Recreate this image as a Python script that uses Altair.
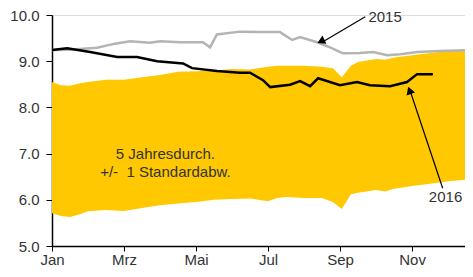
import altair as alt
import pandas as pd

# band (5-year mean +/- 1 std), x in months since Jan 1
band_t = [0, 0.25, 0.5, 0.75, 1, 1.5, 2, 2.5, 3, 3.5, 4, 4.5, 5, 5.5, 6, 6.25, 6.5, 7, 7.5, 7.8, 8.05, 8.3, 8.5, 9, 9.25, 9.5, 10, 10.5, 11, 11.7]
band_hi = [8.55, 8.48, 8.47, 8.52, 8.55, 8.6, 8.6, 8.65, 8.7, 8.77, 8.78, 8.8, 8.83, 8.82, 8.88, 8.9, 8.9, 8.9, 8.88, 8.85, 8.65, 8.9, 8.98, 9.05, 9.03, 9.08, 9.13, 9.18, 9.22, 9.28]
band_lo = [5.71, 5.65, 5.63, 5.68, 5.75, 5.78, 5.76, 5.82, 5.88, 5.92, 5.95, 6.0, 6.02, 6.03, 5.97, 6.04, 6.06, 6.04, 6.04, 5.95, 5.8, 6.12, 6.15, 6.21, 6.18, 6.24, 6.3, 6.35, 6.4, 6.45]

t2015 = [0, 0.5, 1.25, 1.75, 2.17, 2.72, 3.0, 3.56, 4.19, 4.39, 4.58, 5.22, 5.78, 6.33, 6.67, 6.89, 7.36, 7.72, 8.08, 8.56, 8.92, 9.31, 9.67, 10.14, 10.78, 11.7]
v2015 = [9.24, 9.25, 9.29, 9.38, 9.43, 9.4, 9.43, 9.41, 9.41, 9.3, 9.58, 9.64, 9.63, 9.63, 9.46, 9.52, 9.41, 9.3, 9.17, 9.18, 9.2, 9.13, 9.15, 9.2, 9.22, 9.24]

t2016 = [0, 0.42, 1.06, 1.81, 2.36, 2.92, 3.64, 3.89, 4.58, 5.22, 5.5, 5.86, 6.06, 6.61, 6.89, 7.17, 7.39, 8.0, 8.47, 8.83, 9.39, 9.86, 10.14, 10.58]
v2016 = [9.24, 9.28, 9.2, 9.09, 9.09, 9.0, 8.95, 8.85, 8.79, 8.75, 8.75, 8.59, 8.44, 8.49, 8.57, 8.46, 8.63, 8.48, 8.55, 8.48, 8.46, 8.55, 8.72, 8.72]

month_ticks = [0, 2, 4, 6, 8, 10]
month_labels = ["Jan", "Mrz", "Mai", "Jul", "Sep", "Nov"]
y_ticks = [5, 6, 7, 8, 9, 10]

band = pd.DataFrame({"t": band_t, "hi": band_hi, "lo": band_lo})
s15 = pd.DataFrame({"t": t2015, "v": v2015})
s16 = pd.DataFrame({"t": t2016, "v": v2016})

label_expr = "[" + ",".join(f"'{m}'" for m in month_labels) + "][datum.value/2]"

xscale = alt.Scale(domain=[0, 11.47], nice=False, zero=False)
yscale = alt.Scale(domain=[5, 10], nice=False, zero=False)

FONT = "Liberation Sans"
xaxis = alt.Axis(values=month_ticks, labelExpr=label_expr, title=None, grid=False,
                 domainColor="#000", tickColor="#000", tickSize=5, labelFontSize=15,
                 labelFont=FONT, labelColor="#333", labelPadding=1, domainWidth=1.5,
                 labelFlush=False)
yaxis = alt.Axis(values=y_ticks, format=".1f", title=None, grid=False,
                 domainColor="#000", tickColor="#000", tickSize=6, labelFontSize=15,
                 labelFont=FONT, labelColor="#333", labelPadding=7, domainWidth=1.5,
                 labelFlush=False)

area = alt.Chart(band).mark_area(color="#FFC800", opacity=1, clip=True).encode(
    x=alt.X("t:Q", scale=xscale, axis=xaxis),
    y=alt.Y("hi:Q", scale=yscale, axis=yaxis),
    y2="lo:Q",
)
line15 = alt.Chart(s15).mark_line(color="#B4B4B4", strokeWidth=2.5, clip=True).encode(
    x=alt.X("t:Q", scale=xscale), y=alt.Y("v:Q", scale=yscale))
line16 = alt.Chart(s16).mark_line(color="#000000", strokeWidth=2.5).encode(
    x=alt.X("t:Q", scale=xscale), y=alt.Y("v:Q", scale=yscale))

texts = pd.DataFrame({
    "t": [3.15, 3.15, 9.25, 10.93],
    "v": [7.0, 6.6, 9.95, 6.05],
    "label": ["5 Jahresdurch.", "+/-\u00a0 1 Standardabw.", "2015", "2016"],
})
text = alt.Chart(texts).mark_text(font=FONT, fontSize=15, color="#333").encode(
    x=alt.X("t:Q", scale=xscale), y=alt.Y("v:Q", scale=yscale), text="label:N")

arrows = pd.DataFrame({
    "t": [8.7, 10.85], "v": [9.96, 6.25],
    "t2": [7.5, 9.95], "v2": [9.41, 8.35],
})
arrow_lines = alt.Chart(arrows).mark_rule(color="#000", strokeWidth=1.2).encode(
    x=alt.X("t:Q", scale=xscale), y=alt.Y("v:Q", scale=yscale), x2="t2:Q", y2="v2:Q")

heads = pd.DataFrame({"t": [7.47, 9.93], "v": [9.43, 8.37], "ang": [244, 341]})
arrow_heads = alt.Chart(heads).mark_point(shape="triangle-up", filled=True, color="#000", size=80, opacity=1).encode(
    x=alt.X("t:Q", scale=xscale), y=alt.Y("v:Q", scale=yscale),
    angle=alt.Angle("ang:Q", scale=None))

chart = alt.layer(area, line15, line16, text, arrow_lines, arrow_heads).properties(
    width=413, height=231,
    autosize=alt.AutoSizeParams(type="none"),
    padding={"left": 44, "top": 7, "right": 0, "bottom": 22},
).configure_view(stroke=None).configure(background="white")

chart.save("out.html", embed_options={"renderer": "svg", "actions": False})
